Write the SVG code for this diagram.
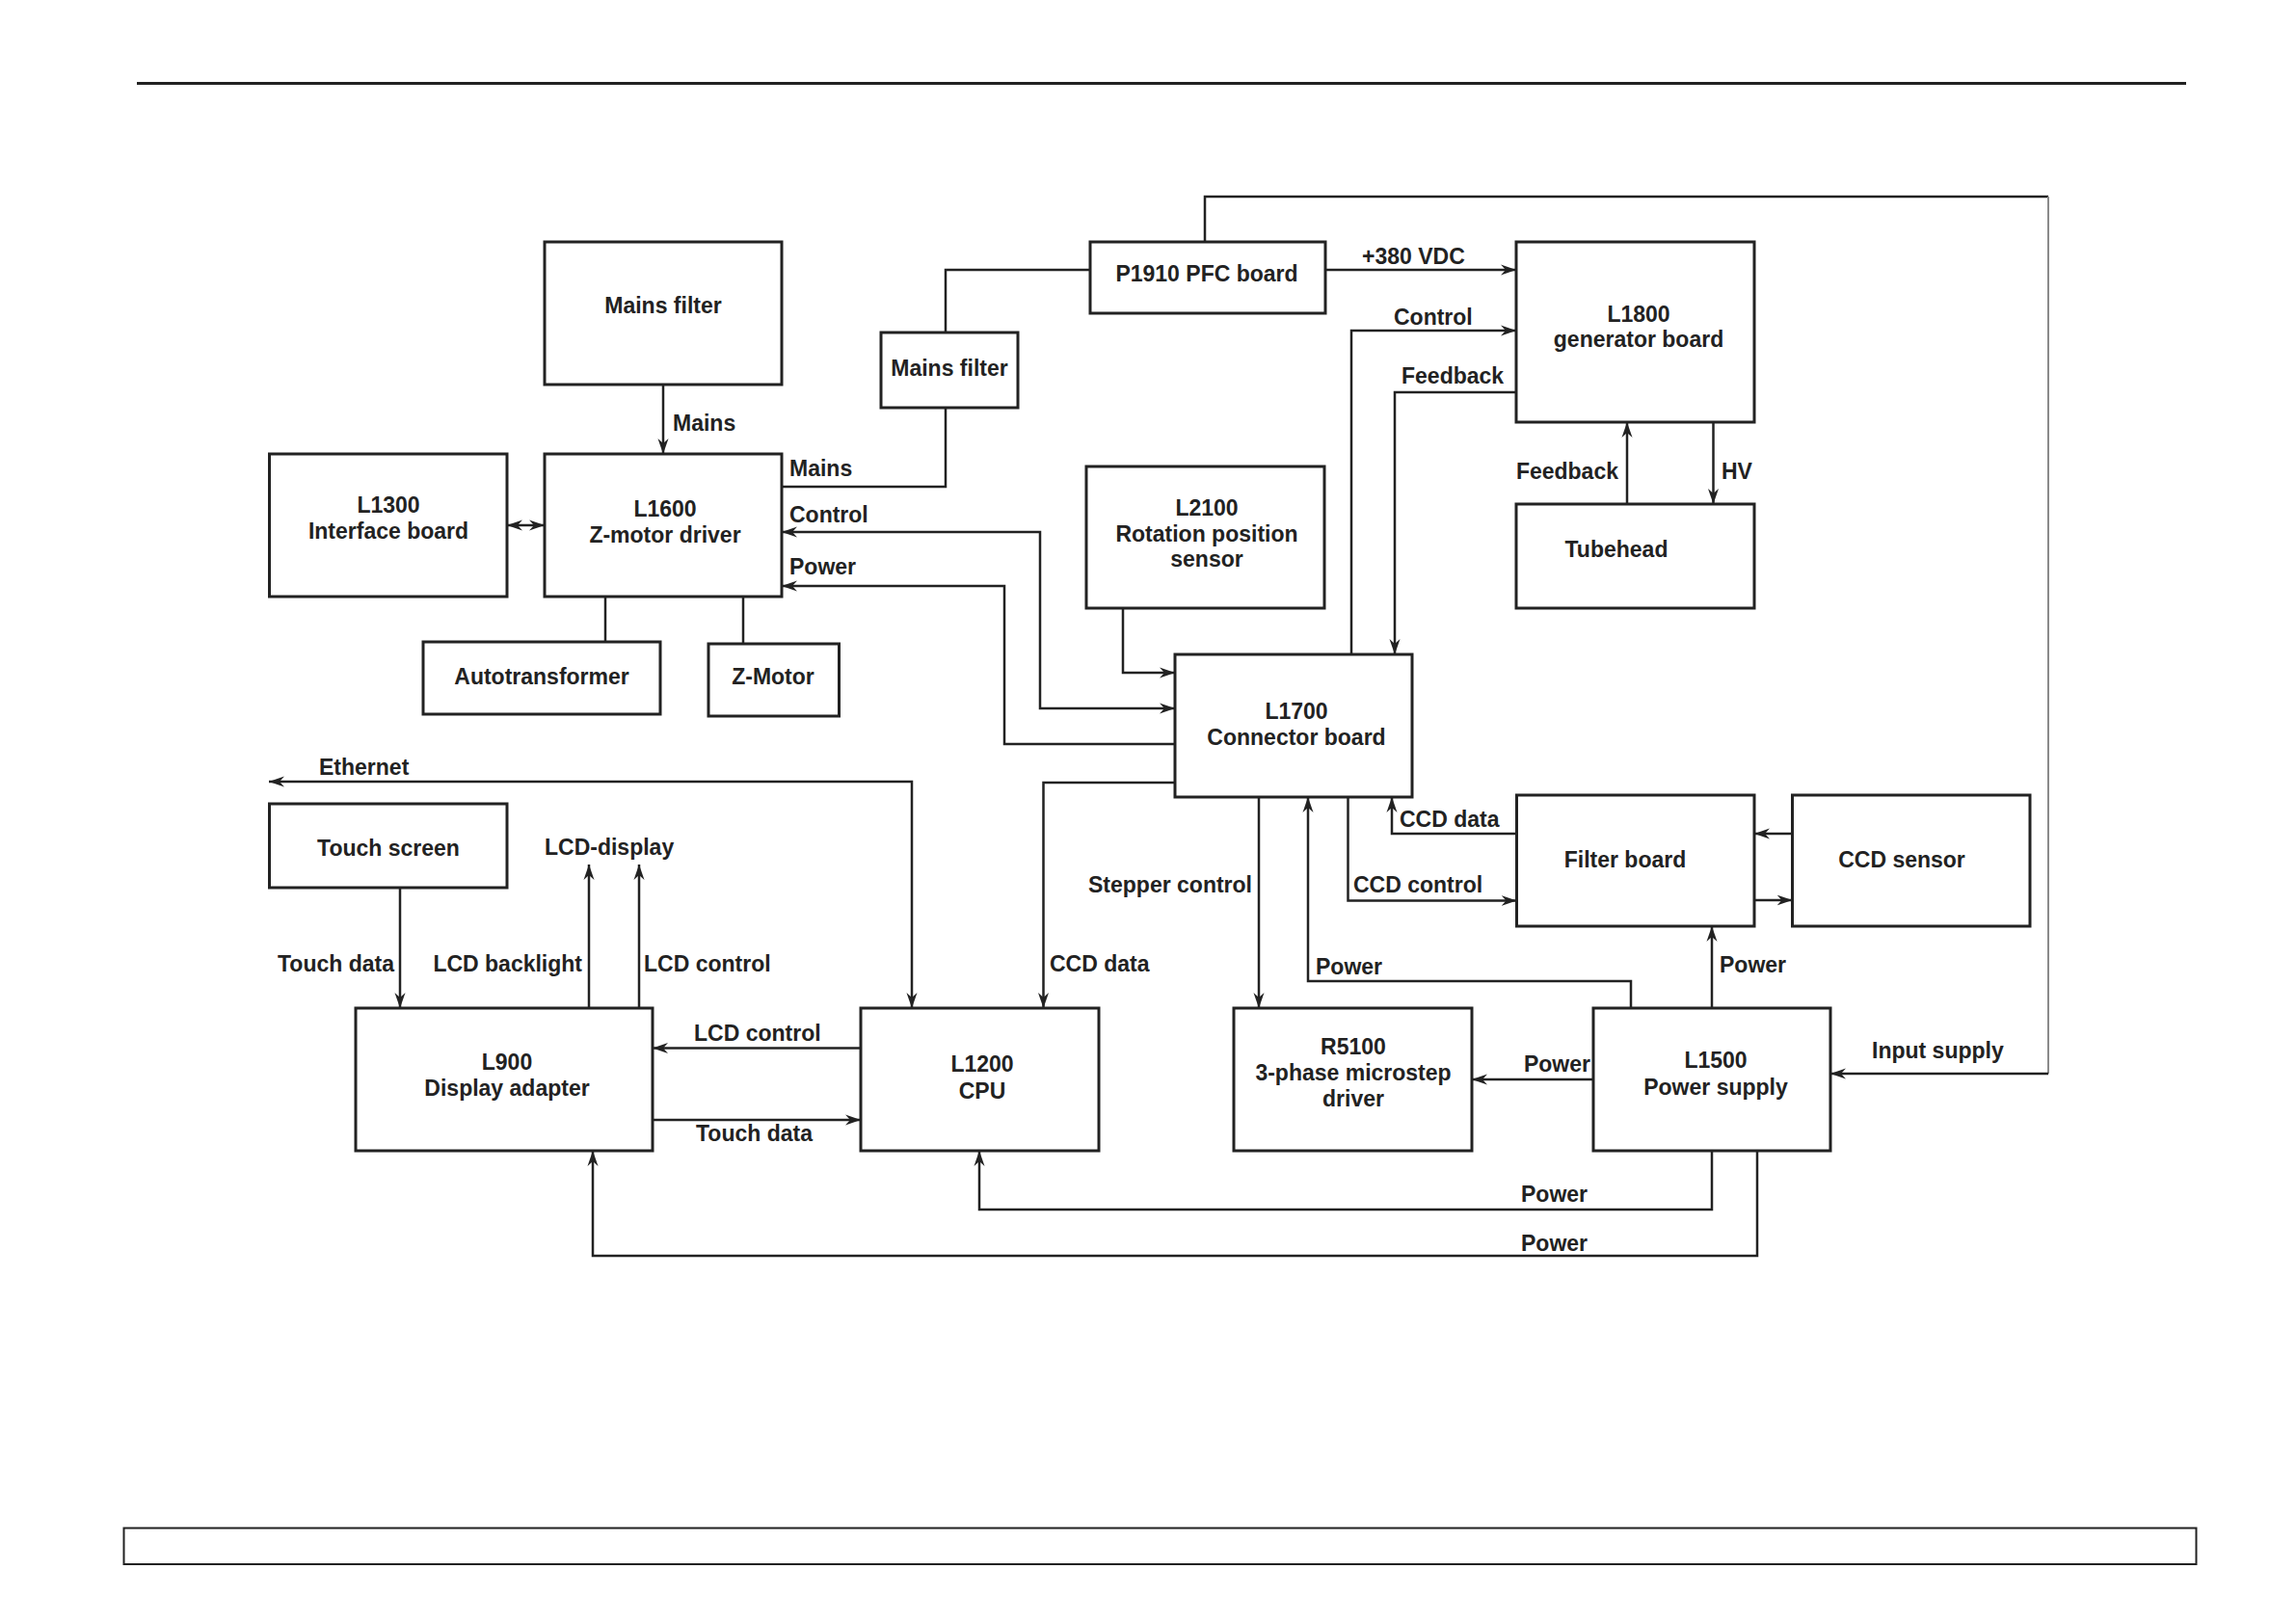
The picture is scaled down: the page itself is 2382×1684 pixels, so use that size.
<svg xmlns="http://www.w3.org/2000/svg" width="2382" height="1684" viewBox="0 0 2382 1684">
<style>
.bg{fill:#fff}
.box{fill:none;stroke:#222;stroke-width:3}
.ln{fill:none;stroke:#222;stroke-width:2.5}
.ln2{fill:none;stroke:#8a8a8a;stroke-width:2}
.t{font-family:"Liberation Sans",Arial,Helvetica,sans-serif;font-weight:bold;font-size:23px;fill:#222}
.c{text-anchor:middle}
.e{text-anchor:end}
.frame{fill:none;stroke:#222;stroke-width:2}
</style>
<defs>
<marker id="ah" markerUnits="userSpaceOnUse" markerWidth="17" markerHeight="12" refX="16" refY="5.5" orient="auto-start-reverse" viewBox="0 0 17 11">
<path d="M0,0 L16,5.5 L0,11 L5,5.5 z" fill="#222"/>
</marker>
</defs>
<rect class="bg" x="0" y="0" width="2382" height="1684"/>
<line x1="142" y1="86.5" x2="2268" y2="86.5" stroke="#222" stroke-width="3"/>
<rect class="frame" x="128.5" y="1585.5" width="2150" height="37.5"/>

<g id="connectors">
<path class="ln" d="M688,399 V471" marker-end="url(#ah)"/>
<path class="ln" d="M526,545 H565" marker-start="url(#ah)" marker-end="url(#ah)"/>
<path class="ln" d="M628,619 V666"/>
<path class="ln" d="M771,619 V668"/>
<path class="ln" d="M811,505 H981 V423"/>
<path class="ln" d="M981,345 V280 H1131"/>
<path class="ln" d="M811,552 H1079 V735 H1219" marker-start="url(#ah)" marker-end="url(#ah)"/>
<path class="ln" d="M1219,772 H1042 V608 H811" marker-end="url(#ah)"/>
<path class="ln" d="M1165,631 V698 H1219" marker-end="url(#ah)"/>
<path class="ln" d="M1250,251 V204 H2125"/>
<path class="ln2" d="M2125,204 V1114"/>
<path class="ln" d="M2125,1114 H1899" marker-end="url(#ah)"/>
<path class="ln" d="M1375,280 H1573" marker-end="url(#ah)"/>
<path class="ln" d="M1402,679 V343 H1573" marker-end="url(#ah)"/>
<path class="ln" d="M1573,407 H1447 V679" marker-end="url(#ah)"/>
<path class="ln" d="M1688,523 V438" marker-end="url(#ah)"/>
<path class="ln" d="M1777.5,438 V523" marker-end="url(#ah)"/>
<path class="ln" d="M279,811 H946 V1046" marker-start="url(#ah)" marker-end="url(#ah)"/>
<path class="ln" d="M415,921 V1046" marker-end="url(#ah)"/>
<path class="ln" d="M611,1046 V897" marker-end="url(#ah)"/>
<path class="ln" d="M663,1046 V897" marker-end="url(#ah)"/>
<path class="ln" d="M893,1087.5 H677" marker-end="url(#ah)"/>
<path class="ln" d="M677,1162 H893" marker-end="url(#ah)"/>
<path class="ln" d="M1219,812 H1082.5 V1046" marker-end="url(#ah)"/>
<path class="ln" d="M1306,827 V1046" marker-end="url(#ah)"/>
<path class="ln" d="M1692,1046 V1018 H1357 V827" marker-end="url(#ah)"/>
<path class="ln" d="M1398.5,827 V934.5 H1573.5" marker-end="url(#ah)"/>
<path class="ln" d="M1573.5,865 H1444 V827" marker-end="url(#ah)"/>
<path class="ln" d="M1859.5,865 H1820" marker-end="url(#ah)"/>
<path class="ln" d="M1820,934 H1859.5" marker-end="url(#ah)"/>
<path class="ln" d="M1776,1046 V961" marker-end="url(#ah)"/>
<path class="ln" d="M1653,1120 H1527" marker-end="url(#ah)"/>
<path class="ln" d="M1776,1194 V1255 H1016 V1194" marker-end="url(#ah)"/>
<path class="ln" d="M1823,1194 V1303 H615 V1194" marker-end="url(#ah)"/>

<text class="t" x="698" y="447">Mains</text>
<text class="t" x="819" y="494">Mains</text>
<text class="t" x="819" y="542">Control</text>
<text class="t" x="819" y="596">Power</text>
<text class="t" x="1413" y="274">+380 VDC</text>
<text class="t" x="1446" y="337">Control</text>
<text class="t" x="1454" y="398">Feedback</text>
<text class="t e" x="1679" y="497">Feedback</text>
<text class="t" x="1786" y="497">HV</text>
<text class="t" x="331" y="804">Ethernet</text>
<text class="t" x="565" y="887">LCD-display</text>
<text class="t e" x="409" y="1008">Touch data</text>
<text class="t e" x="604" y="1008">LCD backlight</text>
<text class="t" x="668" y="1008">LCD control</text>
<text class="t" x="720" y="1080">LCD control</text>
<text class="t" x="722" y="1184">Touch data</text>
<text class="t" x="1089" y="1008">CCD data</text>
<text class="t e" x="1299" y="926">Stepper control</text>
<text class="t" x="1365" y="1011">Power</text>
<text class="t" x="1404" y="926">CCD control</text>
<text class="t" x="1452" y="858">CCD data</text>
<text class="t" x="1784" y="1009">Power</text>
<text class="t e" x="1650" y="1112">Power</text>
<text class="t" x="1942" y="1098">Input supply</text>
<text class="t" x="1578" y="1247">Power</text>
<text class="t" x="1578" y="1298">Power</text>
</g>

<g id="mains-filter-1">
<rect class="box" x="565" y="251" width="246" height="148"/>
<text class="t c" x="688" y="325">Mains filter</text>
</g>
<g id="l1300">
<rect class="box" x="279.5" y="471" width="246.5" height="148"/>
<text class="t c" x="403" y="532">L1300</text>
<text class="t c" x="403" y="559">Interface board</text>
</g>
<g id="l1600">
<rect class="box" x="565" y="471" width="246" height="148"/>
<text class="t c" x="690" y="536">L1600</text>
<text class="t c" x="690" y="563">Z-motor driver</text>
</g>
<g id="autotransformer">
<rect class="box" x="439" y="666" width="246" height="75"/>
<text class="t c" x="562" y="710">Autotransformer</text>
</g>
<g id="z-motor">
<rect class="box" x="735" y="668" width="135.5" height="75"/>
<text class="t c" x="802" y="710">Z-Motor</text>
</g>
<g id="mains-filter-2">
<rect class="box" x="914" y="345" width="142" height="78"/>
<text class="t c" x="985" y="390">Mains filter</text>
</g>
<g id="p1910">
<rect class="box" x="1131" y="251" width="244" height="74"/>
<text class="t c" x="1252" y="292">P1910 PFC board</text>
</g>
<g id="l2100">
<rect class="box" x="1127" y="484" width="247" height="147"/>
<text class="t c" x="1252" y="535">L2100</text>
<text class="t c" x="1252" y="562">Rotation position</text>
<text class="t c" x="1252" y="588">sensor</text>
</g>
<g id="l1800">
<rect class="box" x="1573" y="251" width="247" height="187"/>
<text class="t c" x="1700" y="334">L1800</text>
<text class="t c" x="1700" y="360">generator board</text>
</g>
<g id="tubehead">
<rect class="box" x="1573" y="523" width="247" height="108"/>
<text class="t c" x="1677" y="578">Tubehead</text>
</g>
<g id="l1700">
<rect class="box" x="1219" y="679" width="246" height="148"/>
<text class="t c" x="1345" y="746">L1700</text>
<text class="t c" x="1345" y="773">Connector board</text>
</g>
<g id="filter-board">
<rect class="box" x="1573.5" y="825" width="246.5" height="136"/>
<text class="t c" x="1686" y="900">Filter board</text>
</g>
<g id="ccd-sensor">
<rect class="box" x="1859.5" y="825" width="246.5" height="136"/>
<text class="t c" x="1973" y="900">CCD sensor</text>
</g>
<g id="touch-screen">
<rect class="box" x="279.5" y="834" width="246.5" height="87"/>
<text class="t c" x="403" y="888">Touch screen</text>
</g>
<g id="l900">
<rect class="box" x="369" y="1046" width="308" height="148"/>
<text class="t c" x="526" y="1110">L900</text>
<text class="t c" x="526" y="1137">Display adapter</text>
</g>
<g id="l1200">
<rect class="box" x="893" y="1046" width="247" height="148"/>
<text class="t c" x="1019" y="1112">L1200</text>
<text class="t c" x="1019" y="1140">CPU</text>
</g>
<g id="r5100">
<rect class="box" x="1280" y="1046" width="247" height="148"/>
<text class="t c" x="1404" y="1094">R5100</text>
<text class="t c" x="1404" y="1121">3-phase microstep</text>
<text class="t c" x="1404" y="1148">driver</text>
</g>
<g id="l1500">
<rect class="box" x="1653" y="1046" width="246" height="148"/>
<text class="t c" x="1780" y="1108">L1500</text>
<text class="t c" x="1780" y="1136">Power supply</text>
</g>
</svg>
